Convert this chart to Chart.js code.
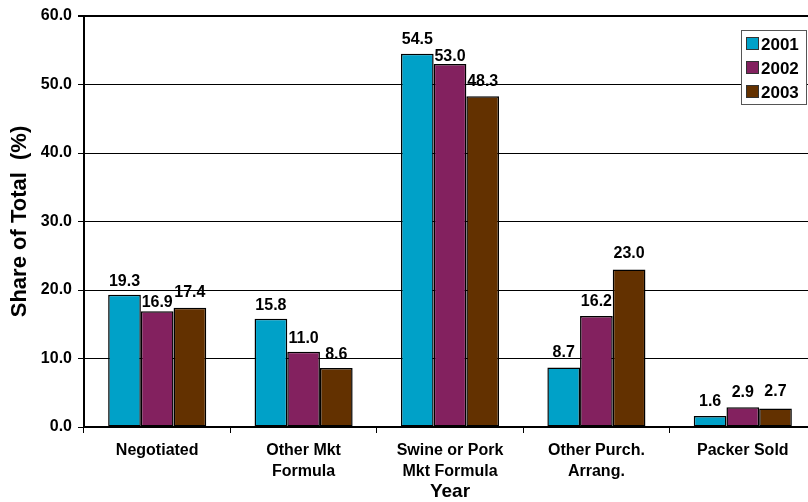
<!DOCTYPE html>
<html>
<head>
<meta charset="utf-8">
<script src="https://cdn.jsdelivr.net/npm/chart.js@4/dist/chart.umd.min.js"></script>
<style>
  html, body { margin: 0; padding: 0; background: #fff; overflow: hidden; }
  #wrap { position: absolute; left: 0; top: 0; width: 816px; height: 502px; }
</style>
</head>
<body>
<div id="wrap"><canvas id="c" width="816" height="502"></canvas></div>
<script>
// Purchase arrangement categories (multi-line labels)
const categories = [
  ['Negotiated'],
  ['Other Mkt', 'Formula'],
  ['Swine or Pork', 'Mkt Formula'],
  ['Other Purch.', 'Arrang.'],
  ['Packer Sold']
];
const years = ['2001', '2002', '2003'];
const share2001 = [19.3, 15.8, 54.5, 8.7, 1.6];
const share2002 = [16.9, 11.0, 53.0, 16.2, 2.9];
const share2003 = [17.4, 8.6, 48.3, 23.0, 2.7];
const yTicks = [0, 10, 20, 30, 40, 50, 60];

const colors = ['#00A1C8', '#83215F', '#633100'];
const FONT = "'Liberation Sans', Arial, Helvetica, sans-serif";

// Gap (px) between a bar top and its value label baseline, per series/category
const labelGaps = [
  [9, 9, 10, 10, 10],
  [4, 9, 3, 10, 10],
  [11, 9, 10, 11, 13]
];

// Value labels above each bar
const valueLabels = {
  id: 'valueLabels',
  afterDatasetsDraw(chart) {
    const ctx = chart.ctx;
    ctx.save();
    ctx.font = 'bold 16px ' + FONT;
    ctx.fillStyle = '#000';
    ctx.textAlign = 'center';
    ctx.textBaseline = 'alphabetic';
    chart.data.datasets.forEach((ds, i) => {
      chart.getDatasetMeta(i).data.forEach((bar, j) => {
        ctx.fillText(ds.data[j].toFixed(1), bar.x, bar.y - labelGaps[i][j]);
      });
    });
    ctx.restore();
  }
};

// Boxed legend in the upper right corner of the plot
const boxLegend = {
  id: 'boxLegend',
  afterDraw(chart) {
    const ctx = chart.ctx;
    const x = 741, y = 30, w = 65, h = 74;
    ctx.save();
    ctx.fillStyle = '#fff';
    ctx.fillRect(x, y, w, h);
    ctx.strokeStyle = '#555';
    ctx.lineWidth = 1;
    ctx.strokeRect(x + 0.5, y + 0.5, w, h);
    ctx.font = 'bold 17px ' + FONT;
    ctx.textBaseline = 'middle';
    ctx.textAlign = 'left';
    chart.data.datasets.forEach((ds, i) => {
      const cy = y + 14 + i * 24;
      ctx.fillStyle = ds.backgroundColor;
      ctx.fillRect(x + 5.5, cy - 6.5, 12, 12);
      ctx.strokeStyle = '#333';
      ctx.strokeRect(x + 5.5, cy - 6.5, 12, 12);
      ctx.fillStyle = '#000';
      ctx.fillText(ds.label, x + 20, cy + 1);
    });
    ctx.restore();
  }
};

const seriesValues = [share2001, share2002, share2003];

new Chart(document.getElementById('c'), {
  type: 'bar',
  data: {
    labels: categories,
    datasets: years.map((yr, i) => ({
      label: yr,
      data: seriesValues[i],
      backgroundColor: colors[i],
      borderColor: '#000',
      borderWidth: 1.5,
      borderSkipped: false,
      barPercentage: 1.0,
      categoryPercentage: 0.67
    }))
  },
  options: {
    responsive: false,
    animation: false,
    devicePixelRatio: 1,
    layout: { padding: { top: 16, right: 0, bottom: 0, left: 0 } },
    plugins: {
      legend: { display: false },
      tooltip: { enabled: false }
    },
    scales: {
      x: {
        afterFit(scale) { scale.height = 75; },
        ticks: {
          color: '#000',
          font: { family: FONT, size: 16, weight: 'bold', lineHeight: 1.3 },
          padding: 7,
          maxRotation: 0,
          autoSkip: false
        },
        grid: {
          drawOnChartArea: false,
          drawTicks: true,
          tickLength: 6,
          color: '#000',
          lineWidth: 1
        },
        border: { color: '#000', width: 2 },
        title: {
          display: true,
          text: 'Year',
          color: '#000',
          font: { family: FONT, size: 19, weight: 'bold' },
          padding: { top: 0, bottom: -1 }
        }
      },
      y: {
        min: 0,
        max: 60,
        afterFit(scale) { scale.width = 84; },
        afterBuildTicks(scale) { scale.ticks = yTicks.map(v => ({ value: v })); },
        ticks: {
          color: '#000',
          font: { family: FONT, size: 16, weight: 'bold' },
          padding: 6,
          callback: v => Number(v).toFixed(1)
        },
        grid: {
          color: '#000',
          lineWidth: ctx => (ctx.tick && ctx.tick.value === 60 ? 2 : 1),
          tickLength: 6
        },
        border: { color: '#000', width: 2 },
        title: {
          display: true,
          text: 'Share of Total  (%)',
          color: '#000',
          font: { family: FONT, size: 22, weight: 'bold' },
          padding: { top: 7, bottom: 0 }
        }
      }
    }
  },
  plugins: [valueLabels, boxLegend]
});
</script>
</body>
</html>
